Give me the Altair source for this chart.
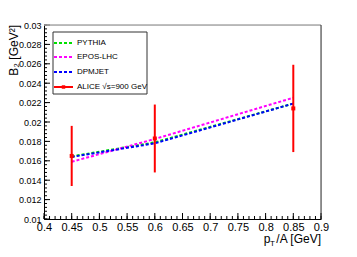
import altair as alt
import pandas as pd

# ---- data ----
pt = [0.45, 0.6, 0.85]
pythia = [0.01645, 0.0179, 0.0219]
epos = [0.0159, 0.01825, 0.0225]
dpmjet = [0.0164, 0.0178, 0.0219]
alice = [0.0165, 0.0183, 0.0214]
alice_err = [0.0031, 0.0035, 0.0045]

x_major = [round(0.4 + 0.05 * i, 2) for i in range(11)]
x_minor = [round(0.4 + 0.01 * i, 2) for i in range(51)]
y_major = [round(0.01 + 0.002 * i, 3) for i in range(11)]
y_minor = [round(0.01 + 0.0004 * i, 4) for i in range(51)]

W, H = 277, 194
FONT = "Liberation Sans"

xs = alt.Scale(domain=[0.4, 0.9], nice=False, zero=False)
ys = alt.Scale(domain=[0.01, 0.03], nice=False, zero=False)

x_axis = alt.Axis(
    values=x_major, labelExpr="format(datum.value, '.2~f')", title=None,
    tickSize=0, grid=False, labelFontSize=11, labelFont=FONT, labelColor="#000",
    labelPadding=2, domainColor="#000", labelFlush=False, labelOverlap=False)
y_axis = alt.Axis(
    values=y_major, labelExpr="format(datum.value, '.3~f')", title=None,
    tickSize=0, grid=False, labelFontSize=9, labelFont=FONT, labelColor="#000",
    labelPadding=3, domainColor="#000", labelFlush=False, labelOverlap=False)


def X(f):
    return alt.X(f, scale=xs, axis=x_axis, title=None)


def Y(f):
    return alt.Y(f, scale=ys, axis=y_axis, title=None)


models = pd.DataFrame({
    "pt": pt * 3,
    "b2": pythia + epos + dpmjet,
    "model": ["PYTHIA"] * 3 + ["EPOS-LHC"] * 3 + ["DPMJET"] * 3,
})
data = pd.DataFrame({"pt": pt, "b2": alice, "err": alice_err})

colors = {"PYTHIA": "#00e000", "EPOS-LHC": "#ff00ff", "DPMJET": "#0000ff"}

one = alt.Data(values=[{}])

layers = []

# ticks inside (ROOT style)
xmaj = pd.DataFrame({"v": x_major})
xmin = pd.DataFrame({"v": x_minor})
ymaj = pd.DataFrame({"v": y_major})
ymin = pd.DataFrame({"v": y_minor})
layers.append(alt.Chart(xmaj).mark_rule(color="#000", strokeWidth=1).encode(
    x=X("v:Q"), y=alt.value(H), y2=alt.value(H - 6)))
layers.append(alt.Chart(xmin).mark_rule(color="#000", strokeWidth=1).encode(
    x=X("v:Q"), y=alt.value(H), y2=alt.value(H - 3)))
layers.append(alt.Chart(ymaj).mark_rule(color="#000", strokeWidth=1).encode(
    y=Y("v:Q"), x=alt.value(0), x2=alt.value(6)))
layers.append(alt.Chart(ymin).mark_rule(color="#000", strokeWidth=1).encode(
    y=Y("v:Q"), x=alt.value(0), x2=alt.value(3)))

# frame top and right
layers.append(alt.Chart(one).mark_rule(color="#aaaaaa", strokeWidth=1.5).encode(
    x=alt.value(0), x2=alt.value(W), y=alt.value(0)))
layers.append(alt.Chart(one).mark_rule(color="#333333", strokeWidth=1).encode(
    x=alt.value(W), y=alt.value(0), y2=alt.value(H)))

# model lines
for m in ["PYTHIA", "EPOS-LHC", "DPMJET"]:
    layers.append(alt.Chart(models).transform_filter(alt.datum.model == m).mark_line(
        color=colors[m], strokeWidth=2, strokeDash=[3, 2]).encode(
        x=X("pt:Q"), y=Y("b2:Q"), order="pt:Q"))

# ALICE points with error bars
eb = alt.Chart(data).transform_calculate(
    lo="datum.b2 - datum.err", hi="datum.b2 + datum.err")
layers.append(eb.mark_rule(color="#ff0000", strokeWidth=2).encode(
    x=X("pt:Q"), y=Y("lo:Q"), y2="hi:Q"))
layers.append(alt.Chart(data).mark_square(color="#ff0000", size=16, opacity=1).encode(
    x=X("pt:Q"), y=Y("b2:Q")))

# legend
layers.append(alt.Chart(one).mark_rect(fill="white", stroke="#333333", strokeWidth=1).encode(
    x=alt.value(9), x2=alt.value(103), y=alt.value(7), y2=alt.value(69)))
entries = [("PYTHIA", colors["PYTHIA"], 18), ("EPOS-LHC", colors["EPOS-LHC"], 32),
           ("DPMJET", colors["DPMJET"], 47)]
for name, c, yy in entries:
    layers.append(alt.Chart(one).mark_rule(color=c, strokeWidth=2, strokeDash=[3, 2]).encode(
        x=alt.value(10), x2=alt.value(29), y=alt.value(yy)))
    layers.append(alt.Chart(one).mark_text(text=name, font=FONT, fontSize=8, align="left",
                                           baseline="middle", color="#000").encode(
        x=alt.value(33), y=alt.value(yy)))
layers.append(alt.Chart(one).mark_rule(color="#ff0000", strokeWidth=2).encode(
    x=alt.value(10), x2=alt.value(29), y=alt.value(62)))
layers.append(alt.Chart(one).mark_square(color="#ff0000", size=12, opacity=1).encode(
    x=alt.value(19.5), y=alt.value(62)))
layers.append(alt.Chart(one).mark_text(text="ALICE √s=900 GeV", font=FONT, fontSize=8,
                                       align="left", baseline="middle", color="#000").encode(
    x=alt.value(33), y=alt.value(62)))

# axis titles
layers.append(alt.Chart(one).mark_text(text="/A [GeV]", font=FONT, fontSize=12, align="right",
                                       baseline="alphabetic", color="#000").encode(
    x=alt.value(W), y=alt.value(218)))
layers.append(alt.Chart(one).mark_text(text="T", font=FONT, fontSize=8, align="right",
                                       baseline="alphabetic", color="#000").encode(
    x=alt.value(231), y=alt.value(221)))
layers.append(alt.Chart(one).mark_text(text="p", font=FONT, fontSize=12, align="right",
                                       baseline="alphabetic", color="#000").encode(
    x=alt.value(226.5), y=alt.value(218)))
layers.append(alt.Chart(one).mark_text(text="B₂ [GeV²]", font=FONT, fontSize=12, angle=270,
                                       align="right", baseline="middle", color="#000").encode(
    x=alt.value(-30), y=alt.value(0)))

chart = alt.layer(*layers).properties(
    width=W, height=H, autosize="none",
    padding={"left": 36, "top": 17, "right": 28, "bottom": 30},
).configure_view(stroke=None).configure(background="white")

chart.save("out.html", embed_options={"renderer": "svg", "actions": False})
